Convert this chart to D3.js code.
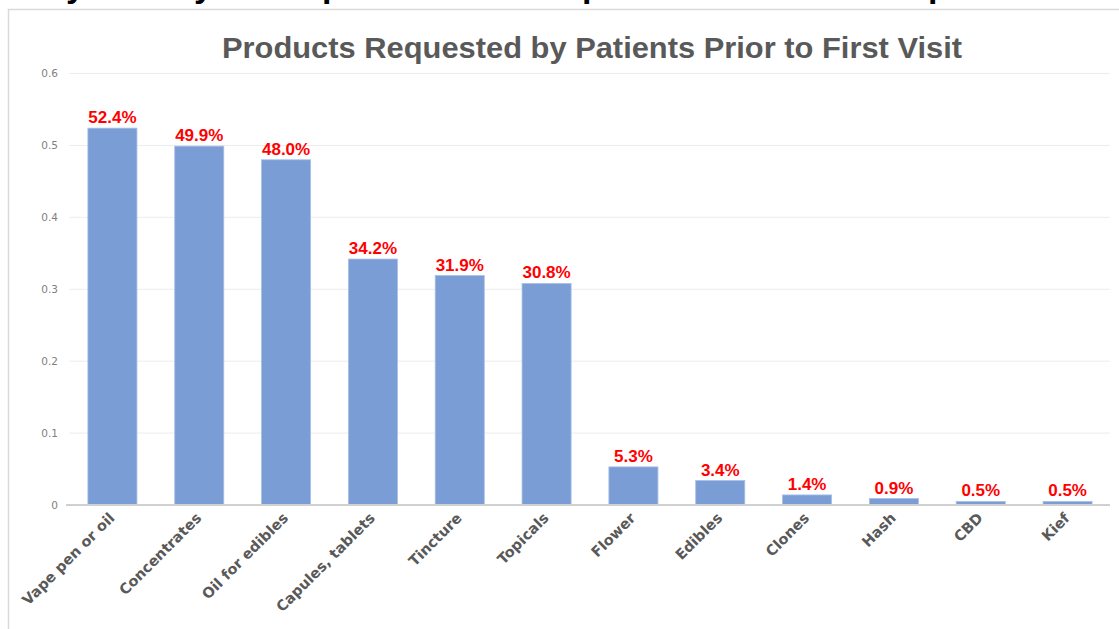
<!DOCTYPE html>
<html><head><meta charset="utf-8">
<script src="https://cdn.jsdelivr.net/npm/d3@7"></script>
<style>body{margin:0;background:#fff;}svg{display:block;}</style>
</head><body>
<svg id="c" width="1119" height="629"></svg>
<script>
const categories = ["Vape pen or oil","Concentrates","Oil for edibles","Capules, tablets","Tincture","Topicals","Flower","Edibles","Clones","Hash","CBD","Kief"];
const values = [0.524,0.499,0.480,0.342,0.319,0.308,0.053,0.034,0.014,0.009,0.005,0.005];
const valueLabels = ["52.4%","49.9%","48.0%","34.2%","31.9%","30.8%","5.3%","3.4%","1.4%","0.9%","0.5%","0.5%"];
const yTicks = [0,0.1,0.2,0.3,0.4,0.5,0.6];
const title = "Products Requested by Patients Prior to First Visit";

const svg = d3.select("#c");

// cut-off heading fragments at top
const frag = svg.append("g").attr("font-family","Liberation Sans, Arial, sans-serif").attr("font-weight","bold").attr("font-size",34).attr("fill","#000");
[["y",66],["y",194],["p",322],["p",582],["p",928]].forEach(([t,x])=>frag.append("text").attr("x",x).attr("y",-3).text(t));

// frame
svg.append("rect").attr("x",8.5).attr("y",9.5).attr("width",1130).attr("height",640).attr("fill","none").attr("stroke","#d9d9d9").attr("stroke-width",1.5);

const y = d3.scaleLinear().domain([0,0.6]).range([505,73.5]);
const x = d3.scaleBand().domain(categories).range([69,1111]).paddingInner(0.435).paddingOuter(0.2175);

// gridlines
svg.append("g").selectAll("line").data(yTicks.filter(d=>d>0)).join("line")
  .attr("x1",69).attr("x2",1110).attr("y1",d=>y(d)).attr("y2",d=>y(d))
  .attr("stroke","#ececec").attr("stroke-width",1);

// y axis
const yAxis = svg.append("g").attr("transform","translate(58,0)")
  .call(d3.axisLeft(y).tickValues(yTicks).tickSize(0).tickPadding(0).tickFormat(d=>d===0?"0":d3.format(".1f")(d)));
yAxis.select(".domain").remove();
yAxis.selectAll("text").attr("font-family","DejaVu Sans, Verdana, sans-serif").attr("font-size",10.5).attr("fill","#7f7f7f");

// title
svg.append("text").attr("x",592).attr("y",58).attr("text-anchor","middle")
  .attr("font-family","Liberation Sans, Arial, sans-serif").attr("font-weight","bold").attr("font-size",29).attr("fill","#595959")
  .attr("textLength",740).attr("lengthAdjust","spacingAndGlyphs").text(title);

// bars
svg.append("g").selectAll("rect").data(values).join("rect")
  .attr("x",(d,i)=>x(categories[i])).attr("width",x.bandwidth())
  .attr("y",d=>y(d)).attr("height",d=>y(0)-y(d))
  .attr("fill","#7b9dd5").attr("stroke","#a7bfe6").attr("stroke-width",0.8);

// baseline
const xAxis = svg.append("g").attr("transform","translate(0,505)")
  .call(d3.axisBottom(x).tickSize(0).tickPadding(0));
xAxis.select(".domain").attr("stroke","#d0d0d0").attr("stroke-width",2).attr("d","M66,0H1110");
xAxis.selectAll("text").attr("font-family","DejaVu Sans, Verdana, sans-serif").attr("font-weight","bold").attr("font-size",14.5).attr("fill","#595959")
  .attr("text-anchor","end").attr("dy",0).attr("transform","translate(3,14) rotate(-45)");

// value labels
svg.append("g").selectAll("text").data(values).join("text")
  .attr("x",(d,i)=>x(categories[i])+x.bandwidth()/2).attr("y",d=>y(d)-5)
  .attr("text-anchor","middle").attr("font-family","Liberation Sans, Arial, sans-serif").attr("font-weight","bold").attr("font-size",17).attr("fill","#ff0000")
  .text((d,i)=>valueLabels[i]);
</script>
</body></html>
